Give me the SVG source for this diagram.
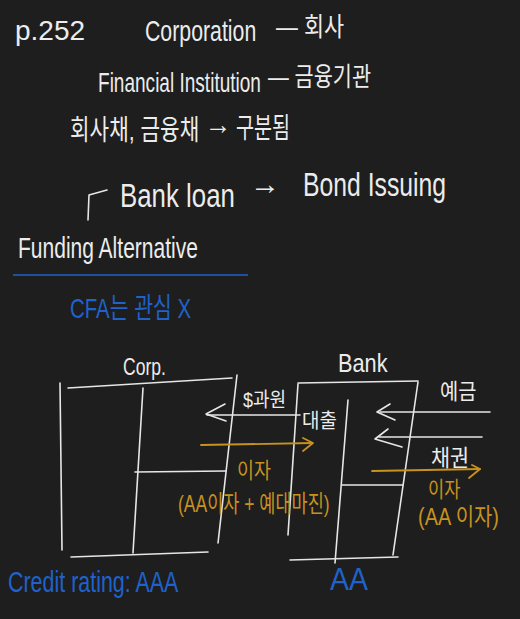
<svg xmlns="http://www.w3.org/2000/svg" width="520" height="619" viewBox="0 0 520 619">
<defs>
<style>
.bg{fill:#1e1e1e}
.w{fill:#ececec;font-family:"Liberation Sans","Noto Sans CJK KR",sans-serif}
.g{fill:#c8921e;font-family:"Liberation Sans","Noto Sans CJK KR",sans-serif}
.b{fill:#1f62cc;font-family:"Liberation Sans","Noto Sans CJK KR",sans-serif}
.ls{stroke:#e6e6e6;stroke-width:1.6;fill:none;stroke-linecap:round;stroke-linejoin:round}
.lg{stroke:#c8921e;stroke-width:1.8;fill:none;stroke-linecap:round;stroke-linejoin:round}
.lb{stroke:#1f62cc;stroke-width:1.6;fill:none}
</style>
</defs>
<rect class="bg" x="0" y="0" width="520" height="619"/>

<g id="header">
<text class="w" x="15" y="40" font-size="28">p.252</text>
<text class="w" font-size="30" transform="translate(145,41) scale(0.71,1)">Corporation</text>
<text class="w" font-size="26" transform="translate(276,36) scale(0.84,1)">— 회사</text>
<text class="w" font-size="28" transform="translate(98,92) scale(0.68,1)">Financial Institution</text>
<text class="w" font-size="26" transform="translate(268,86) scale(0.8,1)">— 금융기관</text>
<text class="w" font-size="28" transform="translate(70,140) scale(0.76,1)">회사채, 금융채</text>
<text class="w" font-size="28" transform="translate(205,134) scale(0.95,1)">→</text>
<text class="w" font-size="28" transform="translate(236,138) scale(0.7,1)">구분됨</text>
<path class="ls" d="M88 220 L89 195 L107 190"/>
<text class="w" font-size="34" transform="translate(120,207) scale(0.76,1)">Bank loan</text>
<text class="w" font-size="30" transform="translate(250,194)">→</text>
<text class="w" font-size="33" transform="translate(303,196) scale(0.75,1)">Bond Issuing</text>
<text class="w" font-size="29" transform="translate(18,258) scale(0.725,1)">Funding Alternative</text>
<line class="lb" x1="13" y1="275" x2="248" y2="275"/>
<text class="b" font-size="28" transform="translate(70,318) scale(0.73,1)">CFA는 관심 X</text>
</g>

<g id="corp">
<text class="w" font-size="24" transform="translate(123,375) scale(0.73,1)">Corp.</text>
<path class="ls" d="M60 383 L62 550"/>
<path class="ls" d="M68 388 L232 378"/>
<path class="ls" d="M143 388 L133 553"/>
<path class="ls" d="M135 472 L226 471"/>
<path class="ls" d="M237 375 L218 543"/>
<path class="ls" d="M71 557 L208 552"/>
<text class="b" font-size="30" transform="translate(8,592) scale(0.715,1)">Credit rating: AAA</text>
</g>

<g id="bank">
<text class="w" font-size="25" transform="translate(338,372) scale(0.87,1)">Bank</text>
<path class="ls" d="M298 383 L418 381"/>
<path class="ls" d="M298 384 L288 535"/>
<path class="ls" d="M348 400 L335 563"/>
<path class="ls" d="M342 485 L403 485"/>
<path class="ls" d="M418 382 L393 555"/>
<path class="ls" d="M290 560 L398 557"/>
<text class="b" font-size="32" transform="translate(330,590) scale(0.89,1)">AA</text>
</g>

<g id="connectors">
<path class="ls" d="M207 415 L300 415"/>
<path class="ls" d="M225 404 L206 414 L226 421"/>
<text class="w" font-size="20" transform="translate(243,407) scale(0.9,1)">$과원</text>
<text class="w" font-size="20" transform="translate(302,428) scale(0.95,1)">대출</text>
<path class="lg" d="M201 445 L312 443"/>
<path class="lg" d="M303 438 L313 443 L303 451"/>
<text class="g" font-size="22" transform="translate(237,478) scale(0.84,1)">이자</text>
<text class="g" font-size="24" transform="translate(178,512) scale(0.73,1)">(AA이자 + 예대마진)</text>

<path class="ls" d="M380 412 L490 412"/>
<path class="ls" d="M390 404 L377 412 L395 420"/>
<text class="w" font-size="22" transform="translate(440,399) scale(0.9,1)">예금</text>
<path class="ls" d="M379 437 L482 437"/>
<path class="ls" d="M388 429 L375 439 L402 447"/>
<text class="w" font-size="23" transform="translate(431,466) scale(0.9,1)">채권</text>
<path class="lg" d="M372 471 L480 469"/>
<path class="lg" d="M472 465 L480 469 L469 478"/>
<text class="g" font-size="22" transform="translate(428,497) scale(0.8,1)">이자</text>
<text class="g" font-size="24" transform="translate(418,525) scale(0.83,1)">(AA 이자)</text>
</g>
</svg>
